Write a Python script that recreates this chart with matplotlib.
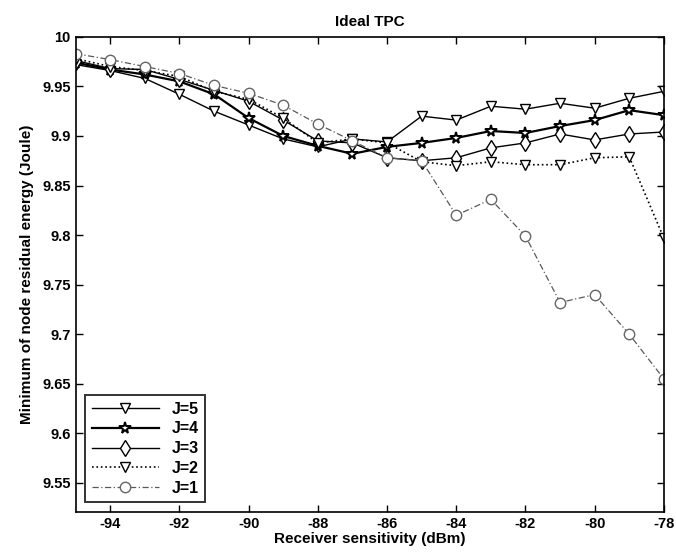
import matplotlib
matplotlib.use("Agg")
import matplotlib.pyplot as plt

plt.rcParams['font.family'] = ['Liberation Sans', 'DejaVu Sans']

x = [-95, -94, -93, -92, -91, -90, -89, -88, -87, -86, -85, -84, -83, -82, -81, -80, -79, -78]

j5 = [9.972, 9.966, 9.958, 9.942, 9.925, 9.911, 9.897, 9.889, 9.897, 9.894, 9.920, 9.916, 9.930, 9.927, 9.933, 9.928, 9.938, 9.945]
j4 = [9.974, 9.967, 9.962, 9.955, 9.942, 9.918, 9.900, 9.890, 9.882, 9.889, 9.893, 9.898, 9.905, 9.903, 9.910, 9.916, 9.926, 9.921]
j3 = [9.976, 9.968, 9.967, 9.957, 9.946, 9.935, 9.916, 9.895, 9.893, 9.878, 9.875, 9.878, 9.888, 9.893, 9.902, 9.896, 9.902, 9.904]
j2 = [9.978, 9.970, 9.966, 9.960, 9.945, 9.937, 9.918, 9.893, 9.897, 9.893, 9.874, 9.870, 9.874, 9.871, 9.871, 9.878, 9.879, 9.797]
j1 = [9.983, 9.977, 9.970, 9.963, 9.951, 9.943, 9.931, 9.912, 9.895, 9.878, 9.875, 9.820, 9.836, 9.799, 9.732, 9.740, 9.700, 9.655]

labels = ['J=5', 'J=4', 'J=3', 'J=2', 'J=1']
xticks = [-94, -92, -90, -88, -86, -84, -82, -80, -78]
yticks = [9.55, 9.6, 9.65, 9.7, 9.75, 9.8, 9.85, 9.9, 9.95, 10]
ytick_labels = ['9.55', '9.6', '9.65', '9.7', '9.75', '9.8', '9.85', '9.9', '9.95', '10']

fig = plt.figure(figsize=(6.76, 5.58), dpi=100)
ax = fig.add_axes([0.112, 0.083, 0.870, 0.851])

ax.plot(x, j5, color='black', linestyle='-', linewidth=1.0, marker='v', markersize=7.5,
        markerfacecolor='white', markeredgecolor='black', label=labels[0])
ax.plot(x, j4, color='black', linestyle='-', linewidth=1.6, marker='*', markersize=8.5,
        markerfacecolor='white', markeredgecolor='black', markeredgewidth=1.4, label=labels[1])
ax.plot(x, j3, color='black', linestyle='-', linewidth=1.0, marker='d', markersize=8,
        markerfacecolor='white', markeredgecolor='black', label=labels[2])
ax.plot(x, j2, color='black', linestyle=':', linewidth=1.2, marker='v', markersize=7.5,
        markerfacecolor='white', markeredgecolor='black', label=labels[3])
ax.plot(x, j1, color='0.35', linestyle=(0, (5, 2, 1, 2)), linewidth=0.9, marker='o', markersize=7.5,
        markerfacecolor='white', markeredgecolor='0.4', label=labels[4])

ax.set_xlim(-95, -78)
ax.set_ylim(9.521, 10.0)
ax.set_xticks(xticks)
ax.set_xticklabels([str(t) for t in xticks])
ax.set_yticks(yticks)
ax.set_yticklabels(ytick_labels)
ax.tick_params(direction='in', length=5, labelsize=10.5, width=1)
ax.tick_params(top=True, right=True)
for lab in ax.get_xticklabels() + ax.get_yticklabels():
    lab.set_fontweight('bold')
for s in ax.spines.values():
    s.set_linewidth(1.2)

ax.set_xlabel('Receiver sensitivity (dBm)', fontsize=11, fontweight='bold', labelpad=1)
ax.set_ylabel('Minimum of node residual energy (Joule)', fontsize=11, fontweight='bold', labelpad=6)
ax.set_title('Ideal TPC', fontsize=11, fontweight='bold', pad=8)

leg = ax.legend(loc='lower left', fontsize=11.5, frameon=True, fancybox=False,
                edgecolor='black', borderaxespad=0.6, handlelength=4.2,
                labelspacing=0.3, borderpad=0.4)
leg.get_frame().set_linewidth(1.4)
for t in leg.get_texts():
    t.set_fontweight('bold')

fig.savefig('out.png', dpi=100)
